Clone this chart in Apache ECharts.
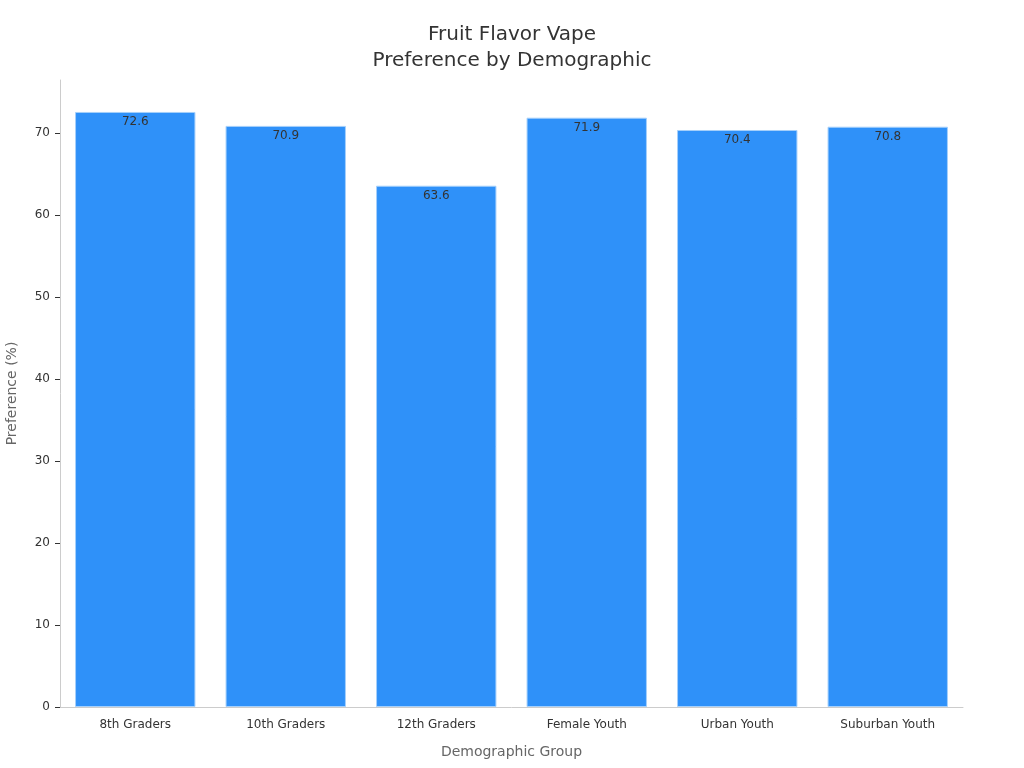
<!DOCTYPE html>
<html><head><meta charset="utf-8">
<script src="https://cdn.jsdelivr.net/npm/echarts@6/dist/echarts.min.js"></script>
<style>html,body{margin:0;padding:0;background:#fff}#c{width:1024px;height:768px}</style>
</head><body><div id="c"></div>
<script>
const categories = ['8th Graders','10th Graders','12th Graders','Female Youth','Urban Youth','Suburban Youth'];
const preference = [72.6, 70.9, 63.6, 71.9, 70.4, 70.8];

const chart = echarts.init(document.getElementById('c'), null, {renderer:'canvas'});
chart.setOption({
  animation:false,
  textStyle:{fontFamily:'DejaVu Sans'},
  title:{
    text:'Fruit Flavor Vape\nPreference by Demographic',
    left:'center', top:17,
    textStyle:{fontSize:20, fontWeight:'normal', color:'#333', lineHeight:26, fontFamily:'DejaVu Sans'}
  },
  grid:{left:60, right:61, top:80, bottom:61, containLabel:false, outerBoundsMode:'none'},
  xAxis:{
    type:'category', data:categories,
    name:'Demographic Group', nameLocation:'middle', nameGap:38,
    nameTextStyle:{fontSize:14, color:'#666'},
    axisLine:{lineStyle:{color:'#ccc'}},
    axisTick:{alignWithLabel:true, length:5, lineStyle:{color:'#333'}},
    axisLabel:{fontSize:12, color:'#333', margin:12}
  },
  yAxis:{
    type:'value', min:0, max:76.5, interval:10,
    name:'Preference (%)', nameLocation:'middle', nameGap:41,
    nameTextStyle:{fontSize:14, color:'#666'},
    axisLine:{show:true, lineStyle:{color:'#ccc'}},
    axisTick:{show:true, length:5, lineStyle:{color:'#333'}},
    axisLabel:{fontSize:12, color:'#333', margin:10, showMaxLabel:false},
    splitLine:{show:false}
  },
  series:[{
    type:'bar', data:preference, barWidth:'80%',
    itemStyle:{color:'#2f91f9', borderColor:'#a6d0fb', borderWidth:1},
    label:{show:true, position:'insideTop', distance:4, fontSize:12, color:'#333'}
  }]
});
</script></body></html>
